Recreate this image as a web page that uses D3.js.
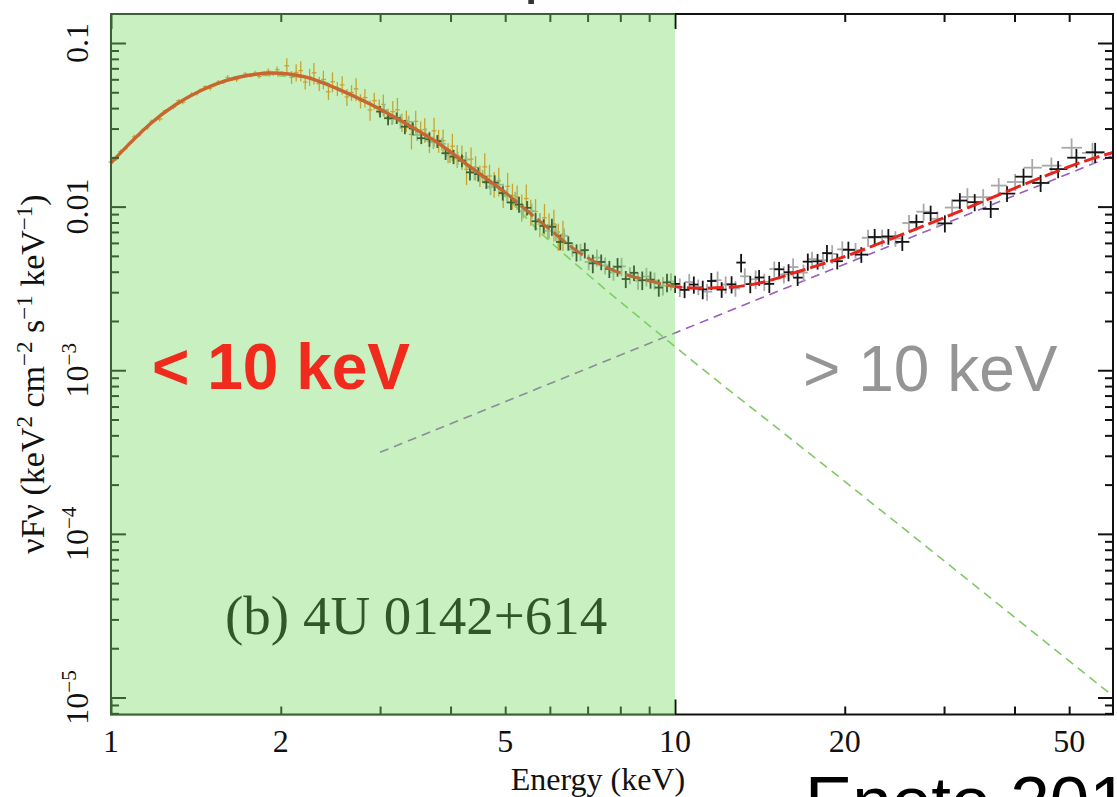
<!DOCTYPE html>
<html>
<head>
<meta charset="utf-8">
<script src="https://cdnjs.cloudflare.com/ajax/libs/d3/7.8.5/d3.min.js"></script>
<style>
html, body { margin: 0; padding: 0; background: #fff; overflow: hidden; }
svg { display: block; }
</style>
</head>
<body>
<svg id="chart"></svg>
<script>
// soft X-ray spectrum (orange), keV / nuFnu / relative error
var orangeE = [1.00,1.02,1.04,1.06,1.08,1.10,1.12,1.14,1.16,1.18,
    1.20,1.22,1.25,1.27,1.29,1.32,1.34,1.37,1.39,1.42,
    1.44,1.47,1.50,1.52,1.55,1.58,1.61,1.64,1.67,1.70,
    1.73,1.77,1.80,1.83,1.87,1.90,1.94,1.97,2.01,2.05,
    2.09,2.13,2.17,2.21,2.25,2.29,2.34,2.38,2.43,2.47,
    2.52,2.57,2.62,2.67,2.72,2.77,2.82,2.88,2.93,2.99,
    3.04,3.10,3.16,3.22,3.28,3.34,3.41,3.47,3.54,3.60,
    3.67,3.74,3.81,3.88,3.96,4.03,4.11,4.19,4.27,4.35,
    4.43,4.51,4.60,4.69,4.78,4.87,4.96,5.05,5.15,5.25,
    5.35,5.45,5.55,5.66,5.76,5.87,5.98,6.10,6.21,6.33];
var orangeF = [0.0187,0.0195,0.0217,0.0226,0.0244,0.0267,0.0272,0.0294,0.0303,0.0332,
    0.0340,0.0343,0.0386,0.0397,0.0406,0.0444,0.0435,0.0463,0.0487,0.0492,
    0.0515,0.0541,0.0529,0.0549,0.0576,0.0573,0.0615,0.0600,0.0597,0.0624,
    0.0646,0.0632,0.0654,0.0625,0.0655,0.0672,0.0648,0.0687,0.0652,0.0726,
    0.0617,0.0661,0.0678,0.0577,0.0621,0.0657,0.0565,0.0599,0.0504,0.0580,
    0.0526,0.0555,0.0468,0.0498,0.0525,0.0442,0.0464,0.0390,0.0444,0.0407,
    0.0421,0.0354,0.0381,0.0391,0.0328,0.0336,0.0276,0.0332,0.0293,0.0296,
    0.0250,0.0291,0.0254,0.0253,0.0214,0.0234,0.0205,0.0202,0.0169,0.0195,
    0.0174,0.0155,0.0175,0.0154,0.0138,0.0144,0.0118,0.0133,0.0117,0.0115,
    0.00997,0.0112,0.00933,0.00934,0.00782,0.00856,0.00770,0.00784,0.00661,0.00678];
var orangeErr = [0.03,0.025,0.03,0.02,0.025,0.03,0.02,0.025,0.03,0.025,
    0.02,0.03,0.025,0.02,0.03,0.025,0.03,0.02,0.025,0.03,
    0.025,0.02,0.03,0.025,0.03,0.02,0.035,0.025,0.03,0.02,
    0.03,0.025,0.035,0.03,0.025,0.04,0.03,0.045,0.03,
    0.11,0.09,0.12,0.14,0.10,0.12,0.15,0.10,0.13,0.11,0.14,
    0.10,0.13,0.12,0.11,0.16,0.10,0.13,0.14,0.12,0.11,
    0.15,0.12,0.16,0.18,0.13,0.15,0.19,0.16,0.13,0.17,
    0.15,0.20,0.16,0.17,0.14,0.19,0.16,0.17,0.20,0.18,
    0.17,0.15,0.21,0.17,0.18,0.20,0.17,0.21,0.18,0.17,
    0.19,0.22,0.18,0.19,0.17,0.21,0.18,0.22,0.19,0.21];

// hard X-ray spectrum, first module (black)
var blackE = [3.00,3.10,3.21,3.32,3.43,3.55,3.67,3.79,3.92,4.05,
    4.19,4.33,4.48,4.63,4.79,4.95,5.12,5.29,5.47,5.66,
    5.85,6.05,6.26,6.47,6.69,6.92,7.15,7.40,7.65,7.91,
    8.18,8.46,8.75,9.05,9.36,9.68,
    10.0,10.4,10.8,11.2,11.6,12.1,12.6,13.1,13.6,14.1,14.7,15.3,15.9,16.5,17.2,17.9,18.6,19.4,
    20.3,21.4,22.6,23.9,25.3,26.8,28.4,30.1,32.0,34.0,36.3,38.8,41.5,44.5,47.8,51.5,55.6];
var blackF = [0.0381,0.0347,0.0348,0.0308,0.0300,0.0262,0.0258,0.0251,0.0212,0.0202,
    0.0191,0.0162,0.0158,0.0141,0.0140,0.0121,0.0106,0.0103,0.00983,0.00814,
    0.00762,0.00753,0.00608,0.00598,0.00525,0.00542,0.00450,0.00459,0.00416,0.00429,
    0.00361,0.00394,0.00355,0.00358,0.00320,0.00344,
    0.00337,0.00310,0.00334,0.00312,0.00351,0.00311,0.00335,0.00455,0.00336,0.00369,0.00337,0.00414,0.00397,0.00368,0.00461,0.00463,0.00520,0.00464,
    0.00545,0.00509,0.00652,0.00657,0.00609,0.00806,0.00913,0.00790,0.01089,0.01065,0.00968,0.01201,0.01524,0.01395,0.01695,0.0199,0.0215];
var blackErr = [0.08,0.09,0.08,0.10,0.09,0.08,0.10,0.09,0.09,0.10,
    0.09,0.11,0.10,0.09,0.11,0.10,0.10,0.11,0.10,0.12,
    0.10,0.12,0.11,0.10,0.12,0.11,0.13,0.11,0.12,0.13,
    0.12,0.11,0.13,0.12,0.12,0.13,
    0.12,0.11,0.12,0.13,0.12,0.11,0.12,0.13,0.12,0.11,0.12,0.11,0.12,0.11,0.12,0.11,0.12,0.11,
    0.12,0.11,0.12,0.11,0.12,0.11,0.11,0.12,0.11,0.12,0.12,0.11,0.12,0.12,0.12,0.13,0.14];

// hard X-ray spectrum, second module (grey)
var grayE = [3.05,3.15,3.26,3.37,3.49,3.61,3.73,3.86,3.99,4.12,
    4.26,4.41,4.56,4.71,4.87,5.04,5.21,5.38,5.57,5.76,
    5.95,6.15,6.36,6.58,6.80,7.03,7.27,7.52,7.78,8.04,
    8.32,8.60,8.90,9.20,9.52,
    9.84,10.2,10.6,11.0,11.4,11.9,12.3,12.8,13.3,13.9,14.4,15.0,15.6,16.2,16.9,17.5,18.3,19.0,
    19.8,20.9,22.0,23.3,24.6,26.0,27.6,29.2,31.0,33.0,35.2,37.5,40.1,43.0,46.5,50.5,55.0];
var grayF = [0.0389,0.0343,0.0332,0.0330,0.0274,0.0276,0.0247,0.0242,0.0205,0.0197,
    0.0194,0.0161,0.0154,0.0132,0.0136,0.0117,0.0111,0.00941,0.00941,0.00807,
    0.00712,0.00699,0.00663,0.00549,0.00529,0.00459,0.00488,0.00437,0.00396,0.00431,
    0.00381,0.00353,0.00374,0.00353,0.00329,
    0.00349,0.00322,0.00346,0.00323,0.00302,0.00355,0.00334,0.00316,0.00375,0.00360,0.00347,0.00416,0.00385,0.00427,0.00395,0.00478,0.00470,0.00514,
    0.00548,0.00541,0.00645,0.00647,0.00638,0.00794,0.00931,0.00842,0.00987,0.01147,0.01142,0.01345,0.01414,0.0173,0.0178,0.0229,0.0213];
var grayErr = [0.09,0.08,0.10,0.09,0.08,0.10,0.09,0.09,0.10,0.09,
    0.11,0.10,0.09,0.11,0.10,0.10,0.11,0.10,0.11,0.11,
    0.10,0.12,0.11,0.10,0.12,0.11,0.12,0.12,0.11,0.13,
    0.12,0.12,0.13,0.12,0.13,
    0.12,0.13,0.12,0.11,0.12,0.13,0.12,0.11,0.12,0.13,0.12,0.11,0.12,0.13,0.12,0.11,0.12,0.13,
    0.12,0.11,0.12,0.12,0.11,0.12,0.12,0.11,0.12,0.13,0.12,0.11,0.12,0.13,0.12,0.14,0.15];

// best-fit total model (red)
var modelE = [1.0,1.081,1.173,1.299,1.438,1.593,1.764,1.93,2.208,2.526,2.903,3.321,3.8,4.365,4.995,
    5.93,6.787,7.762,8.92,9.68,10.94,12.52,14.32,16.19,19.86,24.35,29.87,36.6,44.9,55.1,59.8];
var modelF = [0.0185,0.02445,0.032,0.0418,0.0509,0.0586,0.0637,0.0655,0.062,0.0523,0.0418,0.0324,0.0245,0.0172,0.01227,
    0.00749,0.0052,0.00409,0.00355,0.00331,0.00317,0.00322,0.00345,0.00392,0.00491,0.00642,0.0085,0.0114,0.0152,0.0197,0.0214];
// soft component (green dashed) and hard power law (purple dashed)
var softE = [1.0,1.173,1.438,1.764,2.208,2.903,3.8,4.365,4.995,5.76,7.0,9.5,20,59.8];
var softF = [0.0185,0.032,0.0508,0.0635,0.0617,0.0414,0.0241,0.0167,0.0116,0.0070,0.00386,0.00161,0.000209,0.0000102];
var plE = [3.0,10,59.8];
var plF = [0.000315,0.00169,0.0205];

var xTicks = [1, 2, 5, 10, 20, 50];
var yTicks = [0.1, 0.01, 1e-3, 1e-4, 1e-5];
var yTickLabels = [["0.1", ""], ["0.01", ""], ["10", "\u22123"], ["10", "\u22124"], ["10", "\u22125"]];

var W = 1117, H = 797;
var serif = "'Liberation Serif', 'Times New Roman', serif";
var sans = "'Liberation Sans', Arial, Helvetica, sans-serif";

var svg = d3.select("#chart").attr("width", W).attr("height", H);

var x = d3.scaleLog().domain([1, 59.8]).range([111, 1113]);
var y = d3.scaleLog().domain([7.87e-6, 0.1504]).range([714.5, 14]);

function pts(es, fs) {
    return es.map(function(e, i) { return { e: e, f: fs[i] }; });
}

var line = d3.line()
    .x(function(d) { return x(d.e); })
    .y(function(d) { return y(d.f); })
    .curve(d3.curveMonotoneX);

var plot = svg.append("g");

//Soft component, hidden under the data at low energy
plot.append("path")
    .attr("d", line(pts(softE, softF)))
    .style("fill", "none")
    .style("stroke", "#82c866")
    .style("stroke-width", 1.6)
    .style("stroke-dasharray", "9,6");

//Hard power law
plot.append("path")
    .attr("d", line(pts(plE, plF)))
    .style("fill", "none")
    .style("stroke", "#9a5cbf")
    .style("stroke-width", 1.6)
    .style("stroke-dasharray", "9,6");

//Crosses: vertical = flux error, horizontal = energy bin
function drawSpectrum(es, fs, errs, color, width) {
    var g = plot.append("g");
    var data = pts(es, fs).map(function(d, i) {
        var lo = i > 0 ? Math.sqrt(es[i - 1] * d.e) : d.e * d.e / Math.sqrt(d.e * es[i + 1]);
        var hi = i < es.length - 1 ? Math.sqrt(es[i + 1] * d.e) : d.e * d.e / Math.sqrt(d.e * es[i - 1]);
        var r = errs[i] !== undefined ? errs[i] : 0.1;
        return { e: d.e, f: d.f, lo: lo, hi: hi, r: r };
    });
    g.selectAll(".ev").data(data).enter().append("line")
        .attr("x1", function(d) { return x(d.e); })
        .attr("x2", function(d) { return x(d.e); })
        .attr("y1", function(d) { return y(d.f * (1 + d.r)); })
        .attr("y2", function(d) { return y(d.f * (1 - d.r)); })
        .style("stroke", color)
        .style("stroke-width", width);
    g.selectAll(".eh").data(data).enter().append("line")
        .attr("x1", function(d) { return x(d.lo); })
        .attr("x2", function(d) { return x(d.hi); })
        .attr("y1", function(d) { return y(d.f); })
        .attr("y2", function(d) { return y(d.f); })
        .style("stroke", color)
        .style("stroke-width", width);
}

drawSpectrum(orangeE, orangeF, orangeErr, "#ff7f10", 1.3);
drawSpectrum(grayE, grayF, grayErr, "#a8a8a8", 1.8);
drawSpectrum(blackE, blackF, blackErr, "#141414", 1.8);

//Total model: solid below 5 keV, dashed above
var model = pts(modelE, modelF);
plot.append("path")
    .attr("d", line(model.filter(function(d) { return d.e <= 5; })))
    .style("fill", "none")
    .style("stroke", "#ff1a10")
    .style("stroke-width", 3.4);
plot.append("path")
    .attr("d", line(model.filter(function(d) { return d.e >= 4.99; })))
    .style("fill", "none")
    .style("stroke", "#e8231b")
    .style("stroke-width", 3)
    .style("stroke-dasharray", "16,5");

//Frame and inward ticks
var x0 = x.range()[0], x1 = x.range()[1], y0 = y.range()[0], y1 = y.range()[1];
var isMajor = function(v) { return Math.abs(Math.log10(v) - Math.round(Math.log10(v))) < 1e-6; };
var xMinor = x.ticks().filter(function(v) { return !isMajor(v); }),
    xMajor = x.ticks().filter(isMajor),
    yMinor = y.ticks().filter(function(v) { return !isMajor(v); }),
    yMajor = y.ticks().filter(isMajor);

function tickAxis(axisFn, scale, vals, len, tx, ty) {
    var a = svg.append("g")
        .attr("transform", "translate(" + tx + "," + ty + ")")
        .call(axisFn(scale).tickValues(vals).tickSizeInner(-len).tickSizeOuter(0).tickFormat(""));
    a.select(".domain").remove();
    a.selectAll(".tick line").style("stroke", "#111").style("stroke-width", 2);
}
tickAxis(d3.axisBottom, x, xMinor, 8, 0, y0);
tickAxis(d3.axisBottom, x, xMajor, 15, 0, y0);
tickAxis(d3.axisTop, x, xMinor, 8, 0, y1);
tickAxis(d3.axisTop, x, xMajor, 15, 0, y1);
tickAxis(d3.axisLeft, y, yMinor, 8, x0, 0);
tickAxis(d3.axisLeft, y, yMajor, 15, x0, 0);
tickAxis(d3.axisRight, y, yMinor, 8, x1, 0);
tickAxis(d3.axisRight, y, yMajor, 15, x1, 0);

svg.append("rect")
    .attr("x", x0).attr("y", y1)
    .attr("width", x1 - x0).attr("height", y0 - y1)
    .style("fill", "none")
    .style("stroke", "#111")
    .style("stroke-width", 2);

//Source name
svg.append("text")
    .attr("x", 225).attr("y", 634)
    .style("font-family", serif)
    .style("font-size", "55px")
    .style("fill", "#000")
    .text("(b) 4U 0142+614");

//Translucent green band over the < 10 keV part
svg.append("rect")
    .attr("x", x0 - 1).attr("y", y1 - 1)
    .attr("width", x(10) - x0 + 1).attr("height", y0 - y1 + 2)
    .style("fill", "rgb(118,218,98)")
    .style("fill-opacity", 0.4);

//Tick labels
svg.append("g").selectAll("text")
    .data(xTicks).enter().append("text")
    .attr("x", function(d) { return x(d); })
    .attr("y", 752)
    .attr("text-anchor", "middle")
    .style("font-family", serif)
    .style("font-size", "32px")
    .style("fill", "#111")
    .text(function(d) { return d; });

var yl = svg.append("g").selectAll("text")
    .data(yTicks).enter().append("text")
    .attr("transform", function(d) { return "translate(88," + y(d) + ") rotate(-90)"; })
    .attr("text-anchor", "middle")
    .style("font-family", serif)
    .style("font-size", "32px")
    .style("fill", "#111");
yl.append("tspan").text(function(d, i) { return yTickLabels[i][0]; });
yl.append("tspan")
    .attr("dy", -12)
    .style("font-size", "21px")
    .text(function(d, i) { return yTickLabels[i][1]; });

//Axis titles
svg.append("text")
    .attr("x", (x0 + x1) / 2 - 14).attr("y", 790)
    .attr("text-anchor", "middle")
    .style("font-family", serif)
    .style("font-size", "32px")
    .style("fill", "#111")
    .text("Energy (keV)");

var yt = svg.append("text")
    .attr("transform", "translate(44,374) rotate(-90)")
    .attr("text-anchor", "middle")
    .style("font-family", serif)
    .style("font-size", "34px")
    .style("fill", "#111");
var ytParts = [["\u03bdF\u03bd (keV", 0], ["2", 1], [" cm", 0], ["\u22122", 1], [" s", 0], ["\u22121", 1], [" keV", 0], ["\u22121", 1], [")", 0]];
var prevSup = 0;
ytParts.forEach(function(p) {
    var t = yt.append("tspan").text(p[0]);
    if (p[1]) { t.attr("dy", -12).style("font-size", "23px"); }
    else if (prevSup) { t.attr("dy", 12); }
    prevSup = p[1];
});

//Slide annotations
svg.append("text")
    .attr("x", 152).attr("y", 389)
    .style("font-family", sans)
    .style("font-weight", "bold")
    .style("font-size", "64px")
    .style("fill", "#f02a1c")
    .text("< 10 keV");

svg.append("text")
    .attr("x", 803).attr("y", 391)
    .style("font-family", sans)
    .style("font-size", "64px")
    .style("fill", "#959595")
    .text("> 10 keV");

svg.append("text")
    .attr("x", 524).attr("y", -9)
    .style("font-family", sans)
    .style("font-size", "64px")
    .style("fill", "#333")
    .text("p");

svg.append("text")
    .attr("x", 805).attr("y", 826)
    .style("font-family", sans)
    .style("font-size", "71px")
    .style("fill", "#000")
    .text("Enoto 2017");
</script>
</body>
</html>
